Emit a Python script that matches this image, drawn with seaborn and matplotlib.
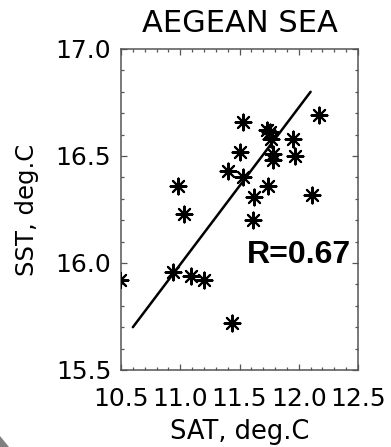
import matplotlib
matplotlib.use("Agg")
import matplotlib.pyplot as plt
from matplotlib.patches import Polygon
from matplotlib.ticker import MultipleLocator
import seaborn as sns
import pandas as pd

# Data
sat = [10.49, 10.94, 10.98, 11.03, 11.09, 11.20, 11.40, 11.44, 11.50, 11.53,
       11.53, 11.62, 11.61, 11.74, 11.73, 11.76, 11.77, 11.78, 11.78, 11.95,
       11.97, 12.11, 12.17]
sst = [15.92, 15.96, 16.36, 16.23, 15.94, 15.92, 16.43, 15.72, 16.52, 16.66,
       16.40, 16.31, 16.20, 16.36, 16.62, 16.61, 16.58, 16.51, 16.48, 16.58,
       16.50, 16.32, 16.69]
fit_x = [10.60, 12.10]
fit_y = [15.70, 16.80]
title = "AEGEAN SEA"
xlabel = "SAT, deg.C"
ylabel = "SST, deg.C"
r_text = "R=0.67"
xticks = [10.5, 11.0, 11.5, 12.0, 12.5]
yticks = [15.5, 16.0, 16.5, 17.0]

df = pd.DataFrame({"SAT": sat, "SST": sst})

sns.set_theme(style="white")
plt.rcParams["font.family"] = ["DejaVu Sans"]
plt.rcParams["text.color"] = "black"
plt.rcParams["axes.labelcolor"] = "black"
plt.rcParams["xtick.color"] = "black"
plt.rcParams["ytick.color"] = "black"

fig = plt.figure(figsize=(3.91, 4.47), dpi=100)
ax = fig.add_axes([121 / 391, 1 - 370 / 447, 237 / 391, 321 / 447])

sns.scatterplot(data=df, x="SAT", y="SST", marker=(8, 2, 0), s=130,
                color="black", linewidth=1.5, ax=ax, zorder=3)
sns.lineplot(x=fit_x, y=fit_y, color="black", linewidth=1.8, ax=ax, zorder=2)

ax.set_xlim(10.5, 12.5)
ax.set_ylim(15.5, 17.0)
ax.set_xticks(xticks)
ax.set_yticks(yticks)
ax.set_xticklabels([f"{v:.1f}" for v in xticks])
ax.set_yticklabels([f"{v:.1f}" for v in yticks])
ax.xaxis.set_minor_locator(MultipleLocator(0.1))
ax.yaxis.set_minor_locator(MultipleLocator(0.1))
ax.tick_params(which="both", direction="in", bottom=True, left=True,
               top=True, right=True, width=0.9)
ax.tick_params(which="major", length=4.5, labelsize=18, labelcolor="black")
ax.tick_params(which="minor", length=2.5)
ax.tick_params(which="both", color="#555555")
ax.tick_params(axis="x", which="major", pad=12)
ax.tick_params(axis="y", which="major", pad=7)
for sp in ax.spines.values():
    sp.set_color("#555555")
    sp.set_linewidth(1.1)

ax.set_xlabel(xlabel, fontsize=18.5, labelpad=6, color="black")
ax.set_ylabel(ylabel, fontsize=17.5, labelpad=12, color="black")
ax.set_title(title, fontsize=22, pad=12, color="black")

ax.text(11.56, 16.0, r_text, fontsize=23, fontweight="bold",
        family=["Liberation Sans", "DejaVu Sans"], ha="left", va="baseline",
        color="black", zorder=4)

tri = Polygon([[0, 1 - 436 / 447], [0, 0], [9 / 391, 0]], closed=True,
              transform=fig.transFigure, facecolor="#808080", edgecolor="none")
fig.patches.append(tri)

fig.savefig("out.png", dpi=100)
